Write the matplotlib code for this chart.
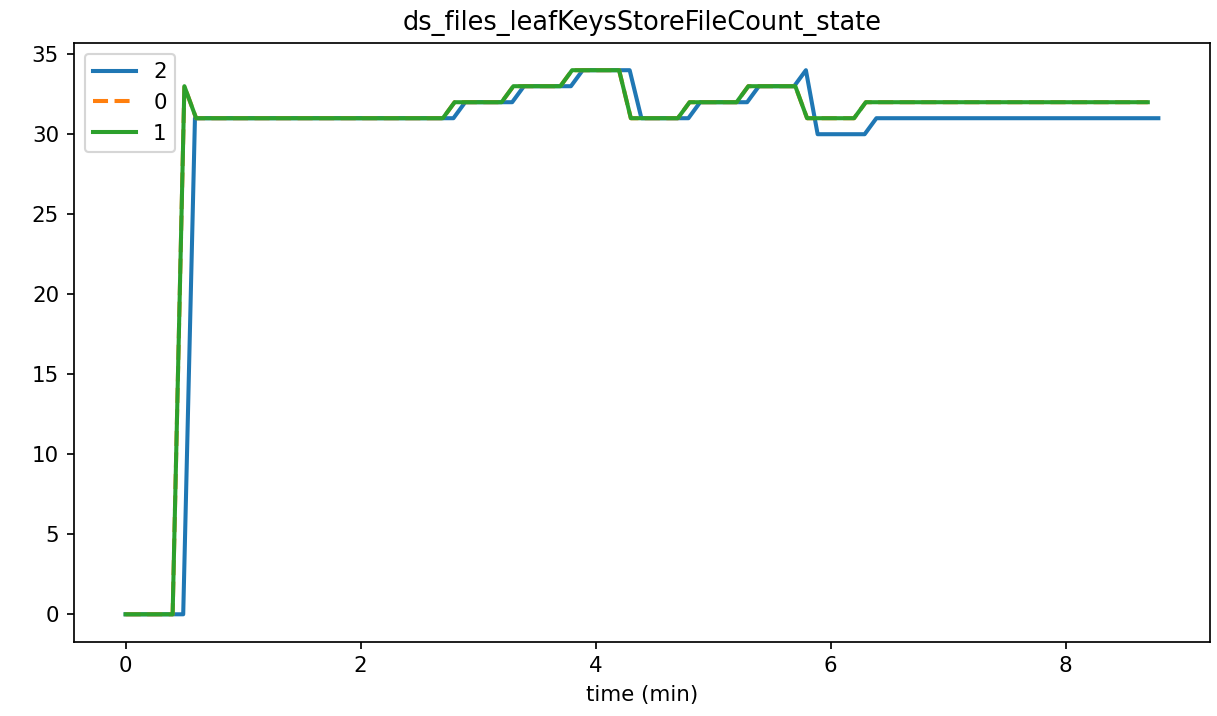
import numpy as np
import matplotlib
matplotlib.use("Agg")
import matplotlib.pyplot as plt

# sample times (min)
t_green = np.round(np.arange(0, 88) * 0.1, 2)
t_blue = np.concatenate([[0.0], np.round(0.09 + np.arange(0, 88) * 0.1, 2)])

# label "2"
vals_2 = [0,
          0, 0, 0, 0, 0,
          31, 31, 31, 31, 31, 31, 31, 31, 31, 31, 31, 31, 31, 31, 31, 31, 31, 31, 31, 31, 31, 31, 31,
          32, 32, 32, 32, 32,
          33, 33, 33, 33, 33,
          34, 34, 34, 34, 34,
          31, 31, 31, 31, 31,
          32, 32, 32, 32, 32,
          33, 33, 33, 33,
          34,
          30, 30, 30, 30, 30,
          31, 31, 31, 31, 31, 31, 31, 31, 31, 31, 31, 31, 31, 31, 31, 31, 31, 31, 31, 31, 31, 31, 31, 31, 31]

# label "1" (label "0" is identical)
vals_1 = [0, 0, 0, 0, 0,
          33,
          31, 31, 31, 31, 31, 31, 31, 31, 31, 31, 31, 31, 31, 31, 31, 31, 31, 31, 31, 31, 31, 31,
          32, 32, 32, 32, 32,
          33, 33, 33, 33, 33,
          34, 34, 34, 34, 34,
          31, 31, 31, 31, 31,
          32, 32, 32, 32, 32,
          33, 33, 33, 33, 33,
          31, 31, 31, 31, 31,
          32, 32, 32, 32, 32, 32, 32, 32, 32, 32, 32, 32, 32, 32, 32, 32, 32, 32, 32, 32, 32, 32, 32, 32, 32]
vals_0 = list(vals_1)

DPI = 154
plt.rcParams['lines.linewidth'] = 1.9
fig = plt.figure(figsize=(1217 / DPI, 716 / DPI), dpi=DPI)
ax = fig.add_subplot(111)
fig.subplots_adjust(left=74 / 1217, right=1210 / 1217, top=1 - 43 / 716, bottom=1 - 641.5 / 716)

ax.plot(t_blue, vals_2, label="2")
ax.plot(t_green, vals_0, "--", label="0")
ax.plot(t_green, vals_1, label="1")

ax.set_title("ds_files_leafKeysStoreFileCount_state")
ax.set_xlabel("time (min)")
ax.legend(loc="upper left")

fig.savefig("out.png", dpi=DPI)
